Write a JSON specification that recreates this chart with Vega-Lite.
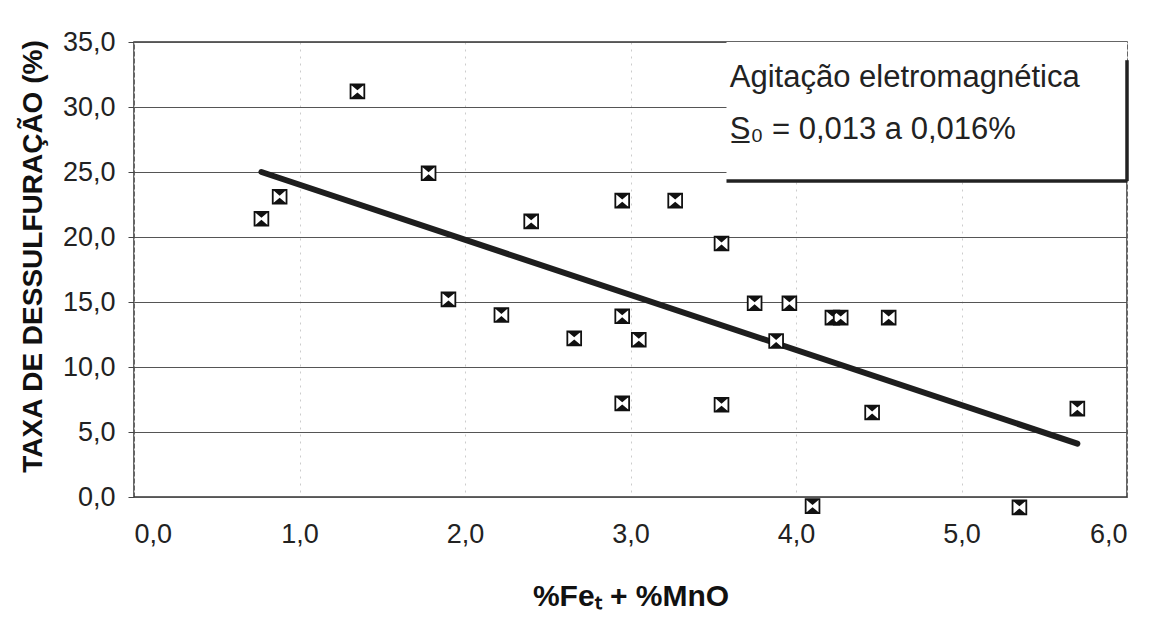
{
  "$schema": "https://vega.github.io/schema/vega-lite/v6.json",
  "width": 993,
  "height": 455,
  "autosize": "none",
  "padding": {"left": 134, "top": 42, "right": 22, "bottom": 124},
  "background": "white",
  "config": {
    "font": "Liberation Sans",
    "view": {"stroke": "#333", "strokeWidth": 1.5},
    "axis": {"labelFont": "Liberation Sans", "titleFont": "Liberation Sans", "labelColor": "#222", "titleColor": "#111"}
  },
  "datasets": {
    "pts": [
      {"x": 0.77, "y": 21.4},
      {"x": 0.88, "y": 23.1},
      {"x": 1.35, "y": 31.2},
      {"x": 1.78, "y": 24.9},
      {"x": 1.90, "y": 15.2},
      {"x": 2.22, "y": 14.0},
      {"x": 2.40, "y": 21.2},
      {"x": 2.66, "y": 12.2},
      {"x": 2.95, "y": 22.8},
      {"x": 2.95, "y": 13.9},
      {"x": 2.95, "y": 7.2},
      {"x": 3.05, "y": 12.1},
      {"x": 3.27, "y": 22.8},
      {"x": 3.55, "y": 19.5},
      {"x": 3.55, "y": 7.1},
      {"x": 3.75, "y": 14.9},
      {"x": 3.96, "y": 14.9},
      {"x": 3.88, "y": 12.0},
      {"x": 4.22, "y": 13.8},
      {"x": 4.27, "y": 13.8},
      {"x": 4.56, "y": 13.8},
      {"x": 4.46, "y": 6.5},
      {"x": 4.10, "y": -0.7},
      {"x": 5.35, "y": -0.8},
      {"x": 5.70, "y": 6.8}
    ],
    "fit": [
      {"x": 0.77, "y": 25.0},
      {"x": 5.70, "y": 4.1}
    ],
    "box": [
      {"x1": 3.58, "x2": 6.0, "y1": 24.3, "y2": 35.0}
    ],
    "notes": [
      {"x": 3.6, "y": 32.2, "t": "Agitação eletromagnética"},
      {"x": 3.6, "y": 28.2, "t": "S̲₀ = 0,013 a 0,016%"}
    ]
  },
  "layer": [
    {
      "data": {"name": "pts"},
      "mark": {"type": "rule", "strokeWidth": 0},
      "encoding": {
        "x": {"field": "x", "type": "quantitative", "scale": {"domain": [0, 6], "nice": false},
          "axis": {"values": [0, 1, 2, 3, 4, 5, 6], "labelExpr": "replace(format(datum.value, '.1f'), '.', ',')",
            "labelFontSize": 27, "labelPadding": 24, "ticks": false, "domain": false,
            "grid": true, "gridColor": "#ccc", "gridDash": [2, 5], "gridWidth": 1,
            "title": "%Feₜ + %MnO", "titleFontSize": 30, "titleFontWeight": "bold", "titlePadding": 34}},
        "y": {"field": "y", "type": "quantitative", "scale": {"domain": [0, 35], "nice": false},
          "axis": {"values": [0, 5, 10, 15, 20, 25, 30, 35], "labelExpr": "replace(format(datum.value, '.1f'), '.', ',')",
            "labelFontSize": 27, "labelPadding": 13, "ticks": true, "tickSize": 6, "tickColor": "#444", "domain": false,
            "grid": true, "gridColor": "#555", "gridWidth": 1,
            "title": "TAXA DE DESSULFURAÇÃO (%)", "titleFontSize": 28, "titleFontWeight": "bold",
            "titleX": -101, "titleY": 214, "titleAngle": -90, "titleAlign": "center", "titleBaseline": "middle"}}
      }
    },
    {
      "data": {"name": "box"},
      "mark": {"type": "rect", "fill": "white", "stroke": null},
      "encoding": {
        "x": {"field": "x1", "type": "quantitative"},
        "x2": {"field": "x2"},
        "y": {"field": "y1", "type": "quantitative"},
        "y2": {"field": "y2"}
      }
    },
    {
      "data": {"name": "box"},
      "mark": {"type": "rule", "color": "#222", "strokeWidth": 3.5},
      "encoding": {
        "x": {"field": "x1", "type": "quantitative"},
        "x2": {"field": "x2"},
        "y": {"field": "y1", "type": "quantitative"}
      }
    },
    {
      "data": {"name": "box"},
      "mark": {"type": "rule", "color": "#222", "strokeWidth": 3.5},
      "encoding": {
        "x": {"field": "x2", "type": "quantitative"},
        "y": {"field": "y1", "type": "quantitative"},
        "y2": {"datum": 33.6}
      }
    },
    {
      "data": {"name": "notes"},
      "mark": {"type": "text", "align": "left", "baseline": "middle", "fontSize": 31, "color": "#222", "font": "Liberation Sans"},
      "encoding": {
        "x": {"field": "x", "type": "quantitative"},
        "y": {"field": "y", "type": "quantitative"},
        "text": {"field": "t"}
      }
    },
    {
      "data": {"name": "fit"},
      "mark": {"type": "line", "color": "#1e1e1e", "strokeWidth": 6, "strokeCap": "round"},
      "encoding": {
        "x": {"field": "x", "type": "quantitative"},
        "y": {"field": "y", "type": "quantitative"}
      }
    },
    {
      "data": {"name": "pts"},
      "mark": {"type": "point", "shape": "square", "filled": true, "fill": "white", "stroke": "#111", "strokeWidth": 1.8, "size": 190, "opacity": 1},
      "encoding": {
        "x": {"field": "x", "type": "quantitative"},
        "y": {"field": "y", "type": "quantitative"}
      }
    },
    {
      "data": {"name": "pts"},
      "mark": {"type": "point", "shape": "M-1,-1L1,-1L0,-0.15Z M-1,1L1,1L0,0.15Z", "filled": true, "fill": "#111", "strokeWidth": 0, "size": 190, "opacity": 1},
      "encoding": {
        "x": {"field": "x", "type": "quantitative"},
        "y": {"field": "y", "type": "quantitative"}
      }
    }
  ]
}
